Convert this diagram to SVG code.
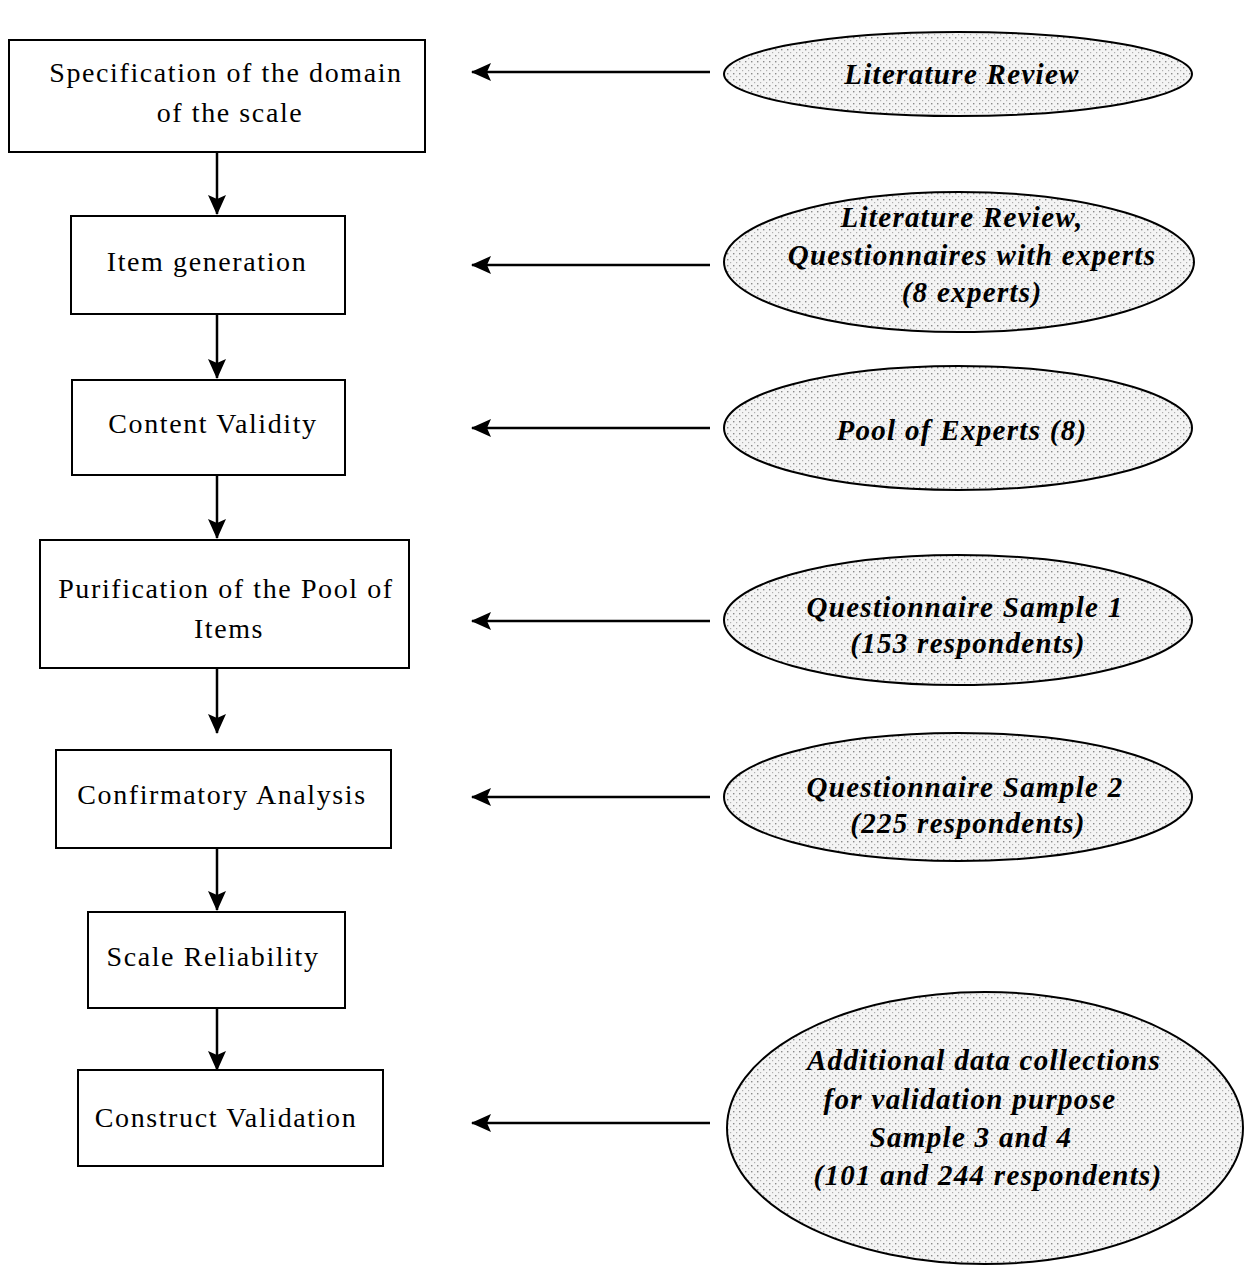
<svg xmlns="http://www.w3.org/2000/svg" width="1248" height="1266" viewBox="0 0 1248 1266">
<defs>
<pattern id="dots" width="6" height="6" patternUnits="userSpaceOnUse">
<rect width="6" height="6" fill="#f4f4f4"/>
<rect x="1" y="1" width="1.4" height="1.4" fill="#8a8a8a"/>
<rect x="4" y="4" width="1.2" height="1.2" fill="#b0b0b0"/>
</pattern>
<marker id="ahl" viewBox="0 0 20 18" refX="19" refY="9" markerWidth="20" markerHeight="18" markerUnits="userSpaceOnUse" orient="auto">
<path d="M0,0 L20,9 L0,18 L4,9 Z" fill="#000"/>
</marker>
</defs>
<style>
.box{fill:#fff;stroke:#000;stroke-width:2}
.ell{fill:url(#dots);stroke:#000;stroke-width:2}
.bt{font-family:"Liberation Serif",serif;font-size:28px;text-anchor:middle;fill:#000;letter-spacing:1.6px}
.et{font-family:"Liberation Serif",serif;font-size:29px;font-weight:bold;font-style:italic;text-anchor:middle;fill:#000;letter-spacing:1.3px}
.con{stroke:#000;stroke-width:2.5;fill:none}
</style>
<rect width="1248" height="1266" fill="#fff"/>

<g id="connectors">
<line class="con" x1="217" y1="152" x2="217" y2="214" marker-end="url(#ahl)"/>
<line class="con" x1="217" y1="314" x2="217" y2="378" marker-end="url(#ahl)"/>
<line class="con" x1="217" y1="475" x2="217" y2="538" marker-end="url(#ahl)"/>
<line class="con" x1="217" y1="668" x2="217" y2="733" marker-end="url(#ahl)"/>
<line class="con" x1="217" y1="848" x2="217" y2="910" marker-end="url(#ahl)"/>
<line class="con" x1="217" y1="1008" x2="217" y2="1070" marker-end="url(#ahl)"/>
<line class="con" x1="710" y1="72" x2="472" y2="72" marker-end="url(#ahl)"/>
<line class="con" x1="710" y1="265" x2="472" y2="265" marker-end="url(#ahl)"/>
<line class="con" x1="710" y1="428" x2="472" y2="428" marker-end="url(#ahl)"/>
<line class="con" x1="710" y1="621" x2="472" y2="621" marker-end="url(#ahl)"/>
<line class="con" x1="710" y1="797" x2="472" y2="797" marker-end="url(#ahl)"/>
<line class="con" x1="710" y1="1123" x2="472" y2="1123" marker-end="url(#ahl)"/>
</g>

<g id="n1"><rect class="box" x="9" y="40" width="416" height="112"/>
<text class="bt" x="226" y="82">Specification of the domain</text>
<text class="bt" x="230" y="122">of the scale</text></g>
<g id="n2"><rect class="box" x="71" y="216" width="274" height="98"/>
<text class="bt" x="207" y="271">Item generation</text></g>
<g id="n3"><rect class="box" x="72" y="380" width="273" height="95"/>
<text class="bt" x="213" y="433">Content Validity</text></g>
<g id="n4"><rect class="box" x="40" y="540" width="369" height="128"/>
<text class="bt" x="226" y="598">Purification of the Pool of</text>
<text class="bt" x="229" y="638">Items</text></g>
<g id="n5"><rect class="box" x="56" y="750" width="335" height="98"/>
<text class="bt" x="222" y="804">Confirmatory Analysis</text></g>
<g id="n6"><rect class="box" x="88" y="912" width="257" height="96"/>
<text class="bt" x="213" y="966">Scale Reliability</text></g>
<g id="n7"><rect class="box" x="78" y="1070" width="305" height="96"/>
<text class="bt" x="226" y="1127">Construct Validation</text></g>

<g id="e1"><ellipse class="ell" cx="958" cy="74" rx="234" ry="42"/>
<text class="et" x="962" y="84">Literature Review</text></g>
<g id="e2"><ellipse class="ell" cx="959" cy="262" rx="235" ry="70"/>
<text class="et" x="962" y="227">Literature Review,</text>
<text class="et" x="972" y="265">Questionnaires with experts</text>
<text class="et" x="972" y="302">(8 experts)</text></g>
<g id="e3"><ellipse class="ell" cx="958" cy="428" rx="234" ry="62"/>
<text class="et" x="962" y="440">Pool of Experts (8)</text></g>
<g id="e4"><ellipse class="ell" cx="958" cy="620" rx="234" ry="65"/>
<text class="et" x="965" y="617">Questionnaire Sample 1</text>
<text class="et" x="968" y="653">(153 respondents)</text></g>
<g id="e5"><ellipse class="ell" cx="958" cy="797" rx="234" ry="64"/>
<text class="et" x="965" y="797">Questionnaire Sample 2</text>
<text class="et" x="968" y="833">(225 respondents)</text></g>
<g id="e6"><ellipse class="ell" cx="985" cy="1128" rx="258" ry="136"/>
<text class="et" x="984" y="1070">Additional data collections</text>
<text class="et" x="970" y="1109">for validation purpose</text>
<text class="et" x="971" y="1147">Sample 3 and 4</text>
<text class="et" x="988" y="1185">(101 and 244 respondents)</text></g>
</svg>
